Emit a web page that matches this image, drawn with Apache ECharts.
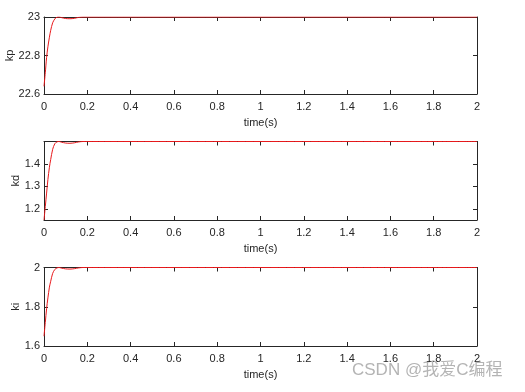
<!DOCTYPE html>
<html><head><meta charset="utf-8">
<script src="https://cdn.jsdelivr.net/npm/echarts@6/dist/echarts.min.js"></script>
<style>html,body{margin:0;padding:0;background:#fff}#c{width:525px;height:392px}</style>
</head><body><div id="c"></div>
<script>
var time = [0, 0.006, 0.012, 0.018, 0.025, 0.031, 0.04, 0.05, 0.06, 0.07, 0.08, 0.1, 0.12, 0.14, 0.16, 0.18, 0.2, 2];
var kp = [22.64, 22.71, 22.79, 22.845, 22.895, 22.931, 22.97, 22.99, 22.999, 23.0, 22.997, 22.992, 22.991, 22.993, 22.998, 23.0, 23.0, 23.0];
var kd = [1.15, 1.21, 1.27, 1.33, 1.385, 1.42, 1.465, 1.49, 1.4985, 1.4999, 1.497, 1.493, 1.492, 1.494, 1.498, 1.4999, 1.4999, 1.4999];
var ki = [1.65, 1.72, 1.79, 1.845, 1.9, 1.93, 1.97, 1.99, 1.998, 2.0, 1.997, 1.993, 1.992, 1.994, 1.998, 2.0, 2.0, 2.0];
var xTicks = [0, 0.2, 0.4, 0.6, 0.8, 1, 1.2, 1.4, 1.6, 1.8, 2];
var kpTicks = [22.6, 22.8, 23];
var kdTicks = [1.2, 1.3, 1.4];
var kiTicks = [1.6, 1.8, 2];
var names = ['kp', 'kd', 'ki'];
var series = [kp, kd, ki];
var yTicks = [kpTicks, kdTicks, kiTicks];
var yRanges = [[22.6, 23], [1.15, 1.4999], [1.6, 2]];

var tops = [17, 141.5, 267.5];
var heights = [77, 78.5, 78.5];
var nameGaps = [29, 23, 23];
var txt = '#262626';
var font = 'Liberation Sans, Arial, sans-serif';
var grids = [], xAxes = [], yAxes = [], ser = [];
for (var i = 0; i < 3; i++) {
  grids.push({left: 44, top: tops[i], width: 433, height: heights[i], containLabel: false, outerBoundsMode: 'none'});
  var lineStyle = {color: '#262626', width: 1};
  xAxes.push({
    type: 'value', gridIndex: i, min: 0, max: 2, position: 'bottom',
    name: 'time(s)', nameLocation: 'middle', nameGap: 23, nameMoveOverlap: false,
    nameTextStyle: {color: txt, fontSize: 11, fontFamily: font},
    axisLine: {show: true, onZero: false, lineStyle: lineStyle},
    axisTick: {show: true, inside: true, length: 4, customValues: xTicks, lineStyle: lineStyle},
    axisLabel: {show: true, customValues: xTicks, margin: 7, color: txt, fontSize: 11, fontFamily: font,
      formatter: function (v) { return String(Math.round(v * 10) / 10); }},
    splitLine: {show: false}
  });
  xAxes.push({
    type: 'value', gridIndex: i, min: 0, max: 2, position: 'top',
    axisLine: {show: true, onZero: false, lineStyle: lineStyle},
    axisTick: {show: true, inside: true, length: 4, customValues: xTicks, lineStyle: lineStyle},
    axisLabel: {show: false}, splitLine: {show: false}
  });
  yAxes.push({
    type: 'value', gridIndex: i, min: yRanges[i][0], max: yRanges[i][1], position: 'left',
    name: names[i], nameLocation: 'middle', nameGap: nameGaps[i], nameRotate: 90, nameMoveOverlap: false,
    nameTextStyle: {color: txt, fontSize: 11, fontFamily: font},
    axisLine: {show: true, onZero: false, lineStyle: lineStyle},
    axisTick: {show: true, inside: true, length: 4, customValues: yTicks[i], lineStyle: lineStyle},
    axisLabel: {show: true, customValues: yTicks[i], margin: 4, color: txt, fontSize: 11, fontFamily: font,
      formatter: function (v) { return String(Math.round(v * 10) / 10); }},
    splitLine: {show: false}
  });
  yAxes.push({
    type: 'value', gridIndex: i, min: yRanges[i][0], max: yRanges[i][1], position: 'right',
    axisLine: {show: true, onZero: false, lineStyle: lineStyle},
    axisTick: {show: true, inside: true, length: 4, customValues: yTicks[i], lineStyle: lineStyle},
    axisLabel: {show: false}, splitLine: {show: false}
  });
  var d = [];
  for (var k = 0; k < time.length; k++) d.push([time[k], series[i][k]]);
  ser.push({
    type: 'line', xAxisIndex: 2 * i, yAxisIndex: 2 * i, data: d,
    showSymbol: false, smooth: 0.3, clip: true,
    lineStyle: {color: '#e8191c', width: 1}, silent: true
  });
}
var chart = echarts.init(document.getElementById('c'), null, {renderer: 'canvas'});
chart.setOption({
  animation: false,
  backgroundColor: '#fff',
  grid: grids, xAxis: xAxes, yAxis: yAxes, series: ser,
  graphic: [{
    type: 'text', left: 352, top: 362,
    style: {text: 'CSDN @我爱C编程', fill: '#b4b4b4', font: '17px "Liberation Sans", "Noto Sans CJK SC", sans-serif'}
  }]
});
</script></body></html>
